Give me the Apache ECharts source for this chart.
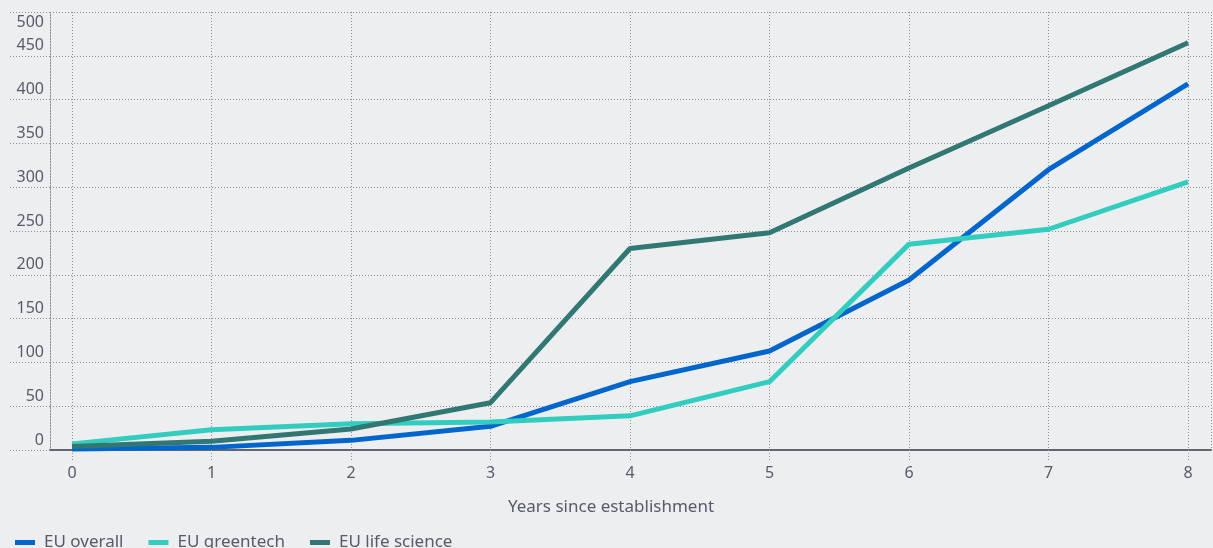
<!DOCTYPE html>
<html>
<head>
<meta charset="utf-8">
<script src="https://cdn.jsdelivr.net/npm/echarts@6/dist/echarts.min.js"></script>
<style>
html,body{margin:0;padding:0;background:#edeef0;}
#chart{width:1213px;height:548px;}
</style>
</head>
<body>
<div id="chart"></div>
<script>
const years = [0, 1, 2, 3, 4, 5, 6, 7, 8];
const euOverall = [1, 3, 11, 27, 78, 113, 194, 320, 418];
const euGreentech = [7, 23, 30, 32, 39, 78, 235, 252, 306];
const euLifeScience = [4, 10, 24, 54, 230, 248, 322, 393, 465];
const seriesNames = ['EU overall', 'EU greentech', 'EU life science'];
const seriesColors = ['#0066cc', '#33cdbf', '#317874'];
const yMax = 500, yStep = 50;
const xTitle = 'Years since establishment';

const textColor = '#555c68';
const gridColor = '#8a9099';
const font = 'Noto Sans';

function pairs(arr) { return arr.map((v, i) => [years[i], v]); }

const chart = echarts.init(document.getElementById('chart'), null, {renderer: 'canvas'});
chart.setOption({
  backgroundColor: '#edeef0',
  animation: false,
  textStyle: {fontFamily: font},
  legend: {
    left: 10, top: 529,
    itemWidth: 20, itemHeight: 5, itemGap: 25,
    icon: 'rect',
    textStyle: {fontSize: 17, color: textColor, fontFamily: font, padding: [0, 0, 0, 4]},
    data: seriesNames
  },
  grid: [
    {left: 50, right: 2, top: 12, bottom: 98},
    {left: 72, right: 25, top: 12, bottom: 98}
  ],
  xAxis: [
    {
      gridIndex: 0, type: 'value', min: 0, max: 1, interval: 1,
      axisLine: {show: true, lineStyle: {color: '#5f6671', width: 2}},
      axisTick: {show: false}, axisLabel: {show: false},
      splitLine: {show: true, lineStyle: {color: gridColor, type: [1, 2], width: 1}}
    },
    {
      gridIndex: 1, type: 'value', min: 0, max: 8, interval: 1,
      axisLine: {show: false},
      axisTick: {show: true, length: 12, lineStyle: {color: gridColor, type: [1, 2], width: 1}},
      axisLabel: {show: true, margin: 15, fontSize: 16, color: textColor, fontFamily: font},
      splitLine: {show: true, lineStyle: {color: gridColor, type: [1, 2], width: 1}},
      name: xTitle, nameLocation: 'middle', nameGap: 49,
      nameTextStyle: {fontSize: 17, color: textColor, fontFamily: font, padding: [0, 38, 0, 0]}
    }
  ],
  yAxis: [
    {
      gridIndex: 0, type: 'value', min: 0, max: yMax, interval: yStep,
      axisLine: {show: true, lineStyle: {color: gridColor, type: [1, 2], width: 1}},
      axisTick: {show: true, length: 42, lineStyle: {color: gridColor, type: [1, 2], width: 1}},
      splitLine: {show: true, lineStyle: {color: gridColor, type: [1, 2], width: 1}},
      axisLabel: {
        show: true, margin: 6, fontSize: 16, color: textColor, fontFamily: font,
        verticalAlign: 'middle',
        formatter: v => v === yMax ? '{t|' + v + '}' : '{b|' + v + '}',
        rich: {
          t: {fontSize: 16, color: textColor, fontFamily: font, padding: [20, 0, 0, 0]},
          b: {fontSize: 16, color: textColor, fontFamily: font, padding: [0, 0, 20, 0]}
        }
      }
    },
    {
      gridIndex: 1, type: 'value', min: 0, max: yMax, show: false
    }
  ],
  series: [
    {name: seriesNames[0], type: 'line', xAxisIndex: 1, yAxisIndex: 1, data: pairs(euOverall),
     showSymbol: false, symbol: 'none', color: seriesColors[0], lineStyle: {width: 5, color: seriesColors[0]}},
    {name: seriesNames[1], type: 'line', xAxisIndex: 1, yAxisIndex: 1, data: pairs(euGreentech),
     showSymbol: false, symbol: 'none', color: seriesColors[1], lineStyle: {width: 5, color: seriesColors[1]}},
    {name: seriesNames[2], type: 'line', xAxisIndex: 1, yAxisIndex: 1, data: pairs(euLifeScience),
     showSymbol: false, symbol: 'none', color: seriesColors[2], lineStyle: {width: 5, color: seriesColors[2]}}
  ]
});
</script>
</body>
</html>
